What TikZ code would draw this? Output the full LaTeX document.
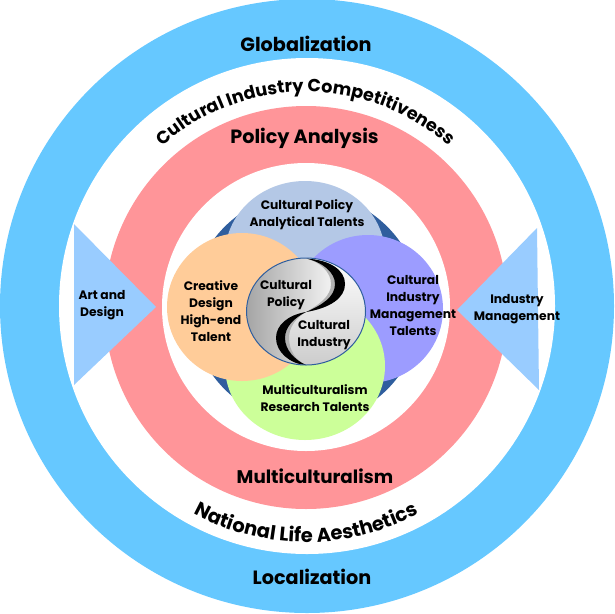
\documentclass[tikz,border=0pt]{standalone}
\usepackage{fontspec}
\setmainfont{Poppins}
\usetikzlibrary{decorations.text}
\definecolor{skyring}{HTML}{66C8FF}
\definecolor{pinkring}{HTML}{FF9599}
\definecolor{tri}{HTML}{99CCFF}
\definecolor{darkb}{HTML}{2F5E9E}
\definecolor{topb}{HTML}{B4C8E6}
\definecolor{violet}{HTML}{9C9CFF}
\definecolor{green2}{HTML}{CCFF99}
\definecolor{orange2}{HTML}{FFCC99}
\tikzset{lab/.style={font=\bfseries\fontsize{12.3}{17}\selectfont,align=center,text=black,inner sep=0pt},
big/.style={font=\bfseries\fontsize{19.2}{20}\selectfont,text=black,inner sep=0pt}}
\begin{document}
\begin{tikzpicture}[x=1pt,y=-1pt]
\useasboundingbox (0,0) rectangle (615,613);
\fill[white] (0,0) rectangle (615,613);
\fill[skyring] (307,306) circle[radius=307];
\fill[white] (307,306) circle[radius=248];
\fill[pinkring] (306,307.5) circle[radius=201.5];
\fill[white] (306,307) circle[radius=144];
\fill[darkb] (306,308) circle[radius=115];
\fill[topb] (305,255) ellipse[x radius=80,y radius=74];
\fill[violet] (368,309) ellipse[x radius=75,y radius=74];
\fill[green2] (305,366) ellipse[x radius=80,y radius=74];
\fill[orange2] (242,307) ellipse[x radius=75,y radius=74];
\fill[tri] (74,224) -- (156,307) -- (74,385) -- cycle;
\fill[tri] (537,228) -- (457,310) -- (539,390) -- cycle;
\begin{scope}
\clip (306,311.5) ellipse[x radius=59.5,y radius=53.5];
\shade[top color=white,bottom color=gray!40] (246,258) rectangle (366,366);
\shade[left color=gray!75,right color=gray!8] (240,255) -- (306,255) -- (306,258.5)
  .. controls (322,262) and (335,272) .. (335,284)
  .. controls (335,297) and (322,305) .. (306,312)
  .. controls (288,315) and (276,325) .. (276,338)
  .. controls (276,352) and (290,364) .. (306,368) -- (240,368) -- cycle;
\fill[gray!60] (306,258.5) .. controls (330,260) and (345,270) .. (345,284)
  .. controls (345,298) and (330,308) .. (306,312)
  .. controls (320,304) and (331,296) .. (331,284)
  .. controls (331,272) and (320,262) .. (306,258.5) -- cycle;
\fill[black] (306,258.5) .. controls (330,260) and (345,270) .. (345,284)
  .. controls (345,298) and (330,308) .. (306,312)
  .. controls (322,305) and (335,297) .. (335,284)
  .. controls (335,272) and (322,262) .. (306,258.5) -- cycle;
\fill[gray!60] (306,312) .. controls (288,315) and (276,325) .. (276,338)
  .. controls (276,352) and (290,364) .. (306,365)
  .. controls (296,361) and (289,350) .. (289,338)
  .. controls (289,327) and (296,318) .. (306,312) -- cycle;
\fill[black] (306,312) .. controls (288,315) and (276,325) .. (276,338)
  .. controls (276,352) and (290,364) .. (306,365)
  .. controls (295,360) and (285,350) .. (285,338)
  .. controls (285,327) and (294,318) .. (306,312) -- cycle;
\end{scope}
\draw[darkb,line width=1pt] (306,311.5) ellipse[x radius=59.5,y radius=53.5];
\node[big] (glob) at (306,44) {Globalization};
\node[big] (pol) at (304.5,138) {Policy Analysis};
\node[big,font=\bfseries\fontsize{18.3}{20}\selectfont] (multi) at (315,476) {Multiculturalism};
\node[big] (loc) at (312,577) {Localization};
\path[decorate,decoration={text along path,text align=center,text={|\bfseries\fontsize{17.6}{18}\selectfont|Cultural Industry Competitiveness}}] (146,163) arc[start angle=-138,end angle=-42,radius=215];
\path[decorate,decoration={text along path,text align=center,text={|\bfseries\fontsize{19.5}{20}\selectfont|National Life Aesthetics}}] (176,503) arc[start angle=123.6,end angle=56.4,radius=235];
\node[lab] (t1) at (307,214.5) {Cultural Policy\\Analytical Talents};
\node[lab] (t2) at (211,311.5) {Creative\\Design\\High-end\\Talent};
\node[lab] (t3) at (413,305.5) {Cultural\\Industry\\Management\\Talents};
\node[lab] (t4) at (315,398.5) {Multiculturalism\\Research Talents};
\node[lab] (t5) at (286,295.5) {Cultural\\Policy};
\node[lab] (t6) at (324,335.5) {Cultural\\Industry};
\node[lab] (t7) at (102,305.5) {Art and\\Design};
\node[lab] (t8) at (517,309) {Industry\\Management};
\end{tikzpicture}
\end{document}
